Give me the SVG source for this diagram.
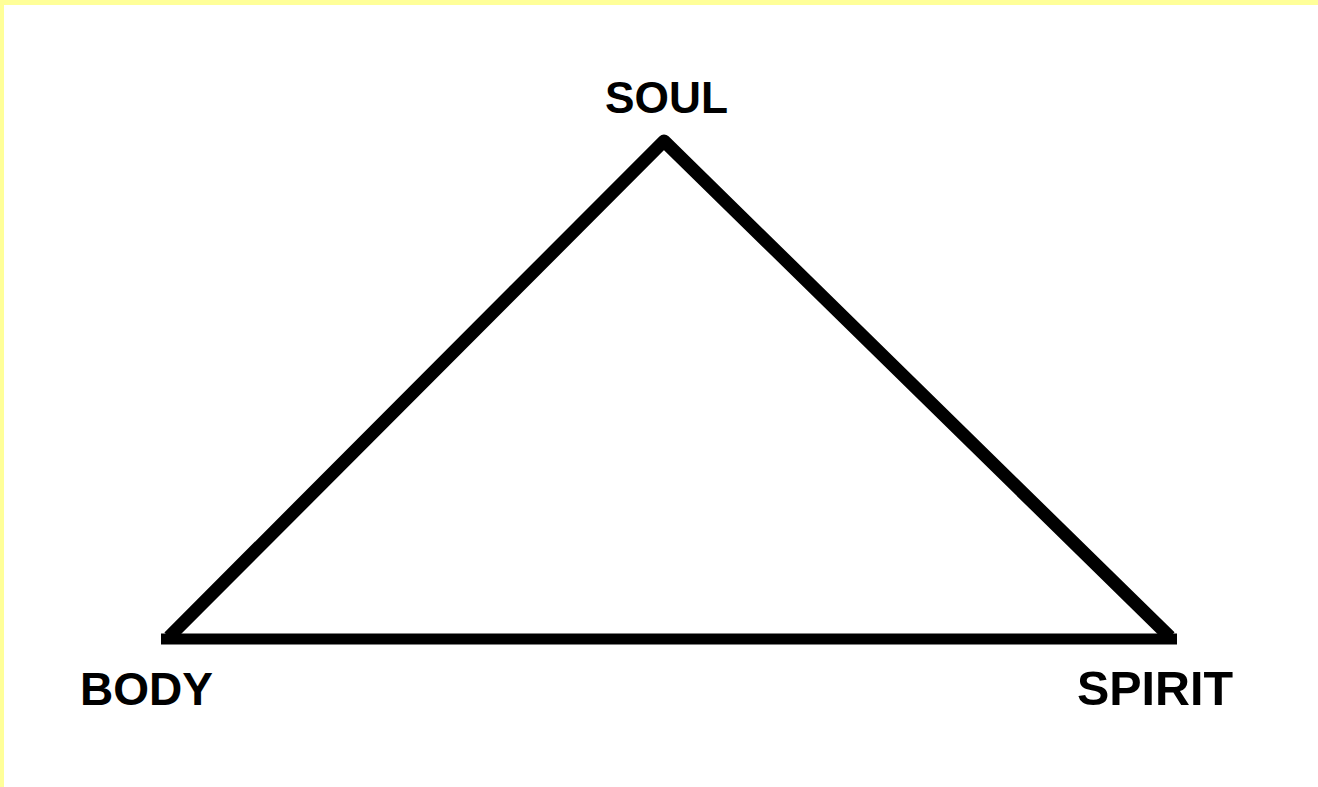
<svg xmlns="http://www.w3.org/2000/svg" width="1318" height="787" viewBox="0 0 1318 787">
<style>
.lbl{font-family:"Liberation Sans",Arial,sans-serif;font-weight:bold;fill:#000}
.edge{stroke:#000;fill:none}
</style>
<rect x="0" y="0" width="1318" height="787" fill="#fff"/>
<rect x="0" y="0" width="1318" height="5" fill="#ffff99"/>
<rect x="0" y="0" width="4" height="787" fill="#ffff99"/>
<g id="connectors">
<path class="edge" d="M169 637 L664 141 L1170 637" stroke-width="13" stroke-linejoin="round" stroke-linecap="butt"/>
<line class="edge" x1="161" y1="639" x2="1177" y2="639" stroke-width="11"/>
</g>
<g id="soul"><text class="lbl" x="605" y="113" font-size="44" textLength="123" lengthAdjust="spacingAndGlyphs">SOUL</text></g>
<g id="body"><text class="lbl" x="80" y="705" font-size="47" textLength="133" lengthAdjust="spacingAndGlyphs">BODY</text></g>
<g id="spirit"><text class="lbl" x="1077" y="705" font-size="49" textLength="156" lengthAdjust="spacingAndGlyphs">SPIRIT</text></g>
</svg>
